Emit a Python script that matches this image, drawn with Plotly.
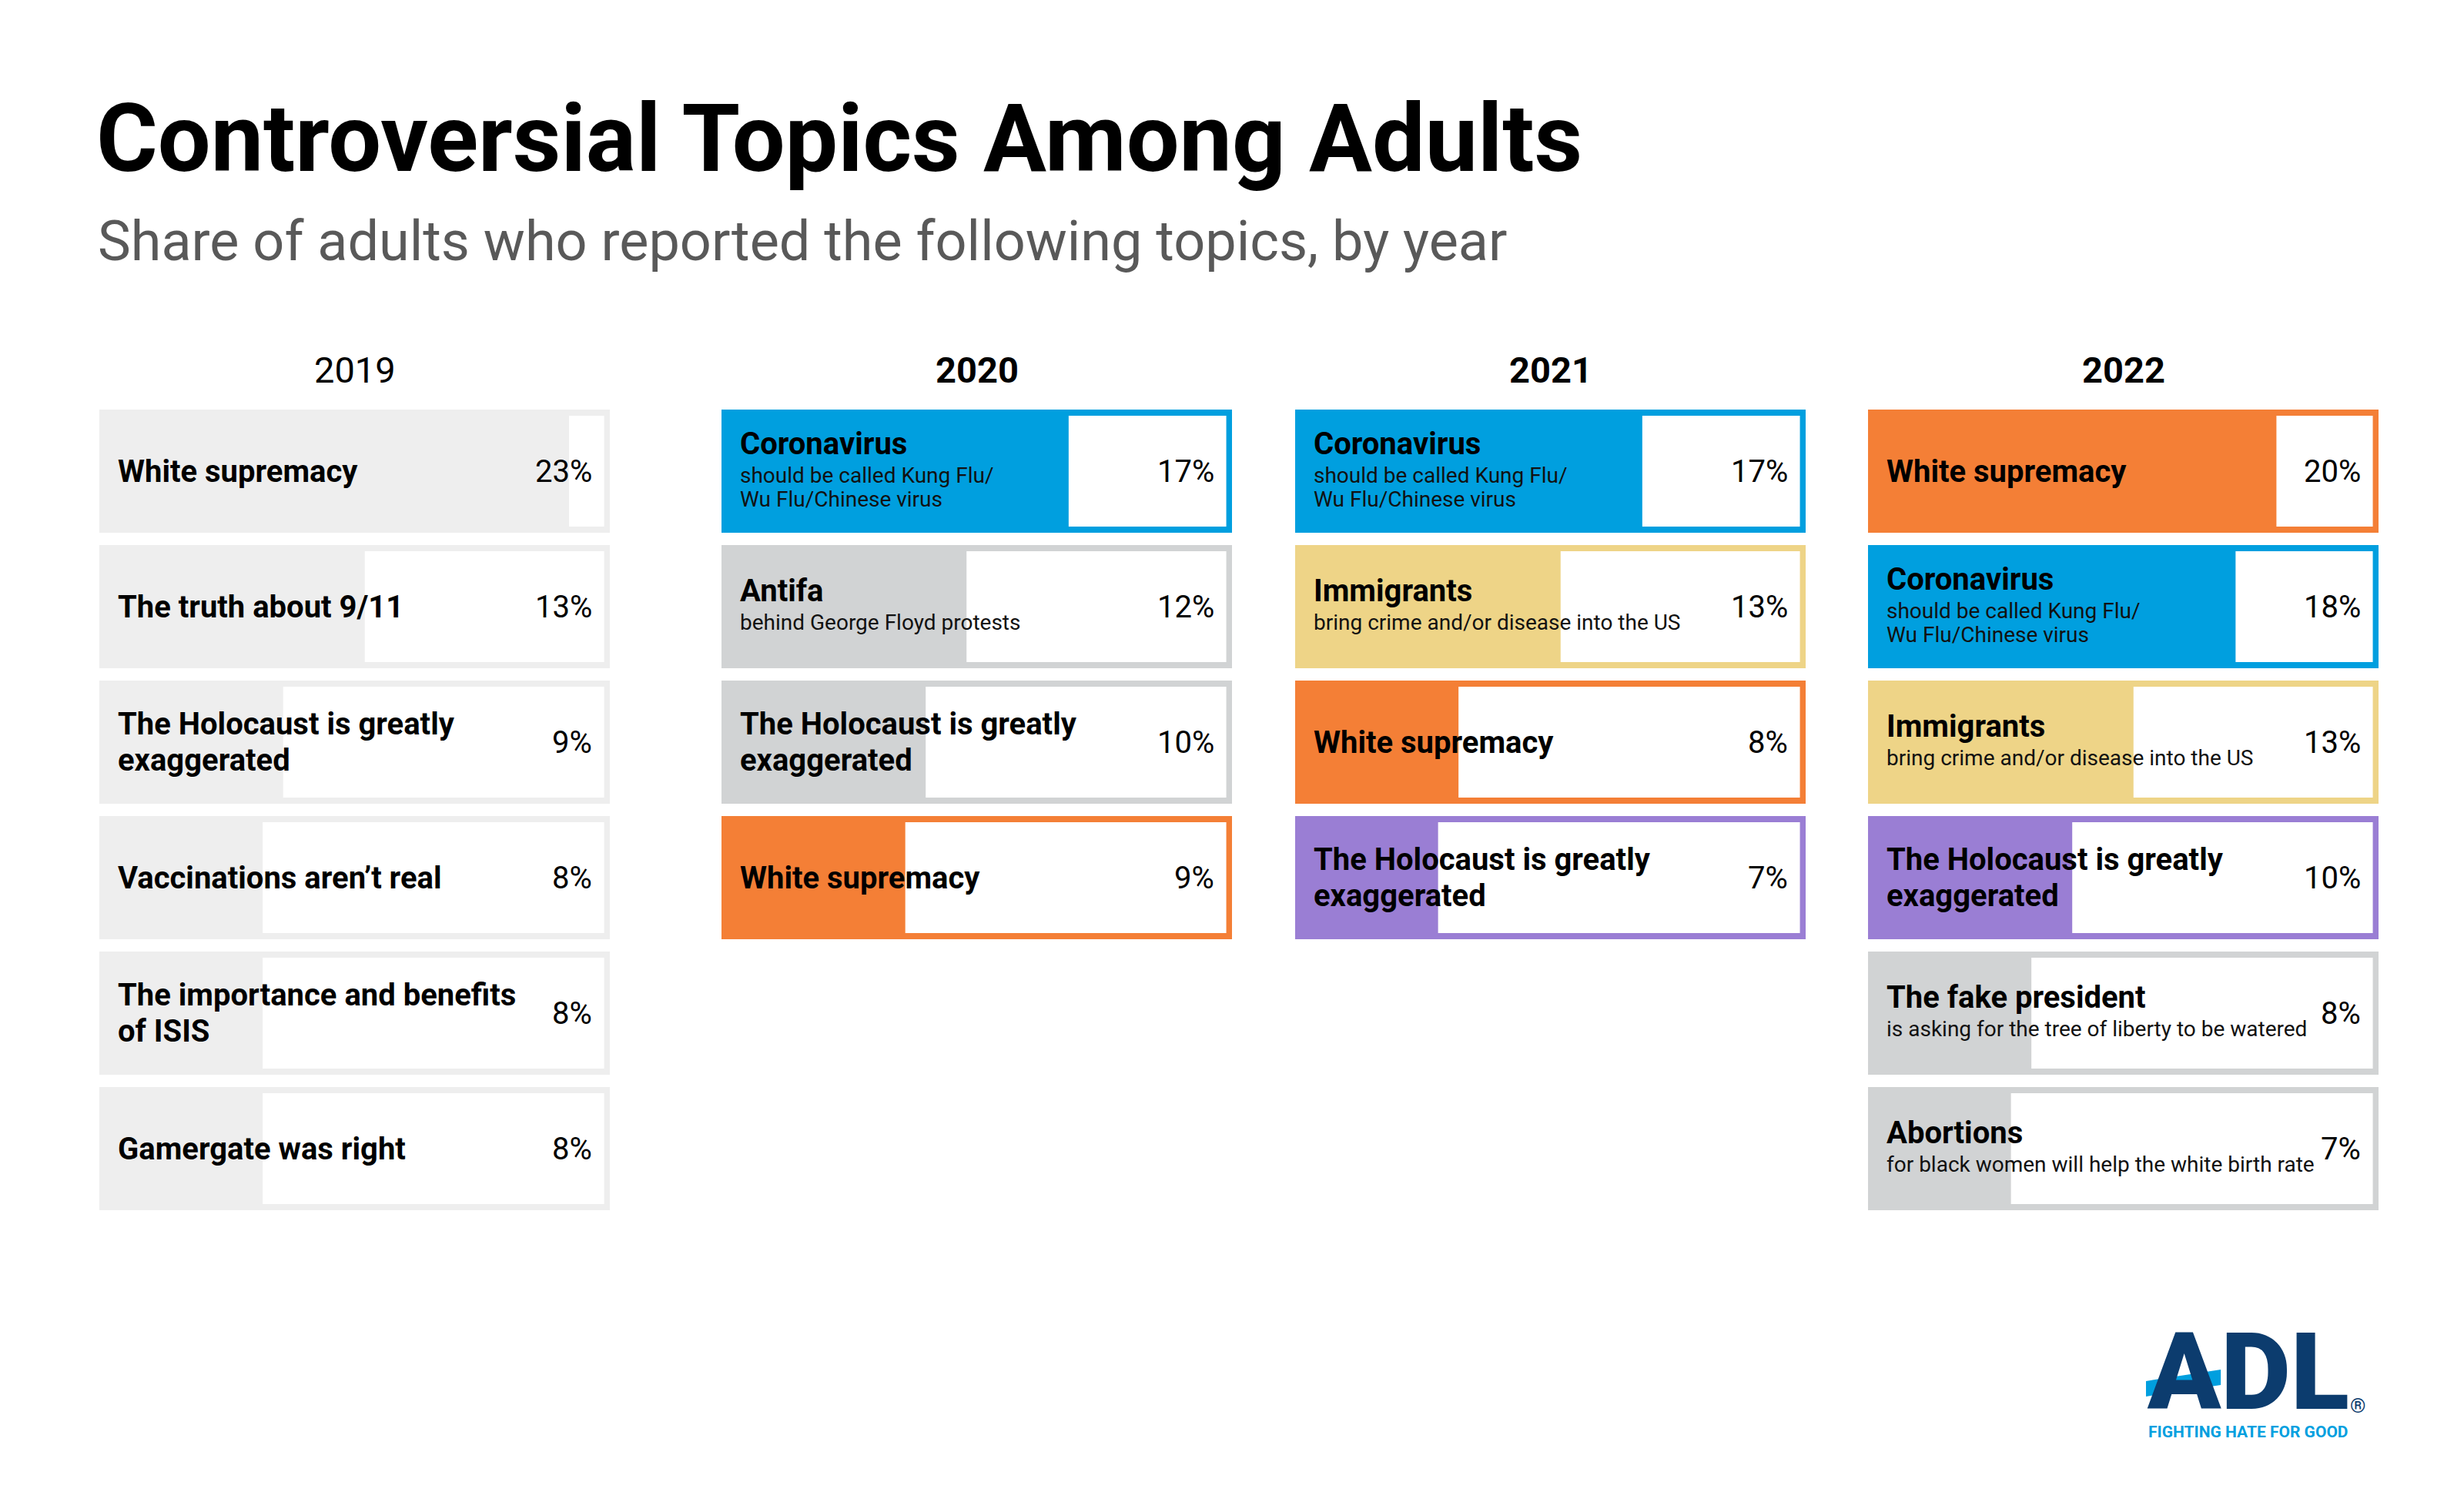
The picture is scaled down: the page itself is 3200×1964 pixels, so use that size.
import plotly.graph_objects as go

# values (share of adults, %)
years = ["2019", "2020", "2021", "2022"]

topics_2019 = ["White supremacy", "The truth about 9/11",
               "The Holocaust is greatly<br>exaggerated", "Vaccinations aren’t real",
               "The importance and benefits<br>of ISIS", "Gamergate was right"]
notes_2019 = ["", "", "", "", "", ""]
values_2019 = [23, 13, 9, 8, 8, 8]
colors_2019 = ["light", "light", "light", "light", "light", "light"]

topics_2020 = ["Coronavirus", "Antifa", "The Holocaust is greatly<br>exaggerated",
               "White supremacy"]
notes_2020 = ["should be called Kung Flu/<br>Wu Flu/Chinese virus",
              "behind George Floyd protests", "", ""]
values_2020 = [17, 12, 10, 9]
colors_2020 = ["blue", "grey", "grey", "orange"]

topics_2021 = ["Coronavirus", "Immigrants", "White supremacy",
               "The Holocaust is greatly<br>exaggerated"]
notes_2021 = ["should be called Kung Flu/<br>Wu Flu/Chinese virus",
              "bring crime and/or disease into the US", "", ""]
values_2021 = [17, 13, 8, 7]
colors_2021 = ["blue", "yellow", "orange", "purple"]

topics_2022 = ["White supremacy", "Coronavirus", "Immigrants",
               "The Holocaust is greatly<br>exaggerated", "The fake president",
               "Abortions"]
notes_2022 = ["", "should be called Kung Flu/<br>Wu Flu/Chinese virus",
              "bring crime and/or disease into the US", "",
              "is asking for the tree of liberty to be watered",
              "for black women will help the white birth rate"]
values_2022 = [20, 18, 13, 10, 8, 7]
colors_2022 = ["orange", "blue", "yellow", "purple", "grey", "grey"]

PALETTE = {"light": "#EEEEEE", "grey": "#D1D3D4", "blue": "#009FDF",
           "orange": "#F47F36", "yellow": "#EED487", "purple": "#9A7ED4"}

# page geometry (pixels on the 3200x1964 page); the html body adds an 8px margin
PAGE_W, PAGE_H = 3200, 1964
OFF = 8
W, H = PAGE_W - 2 * OFF, PAGE_H - 2 * OFF


def fx(px):
    return (px - OFF) / W


def fy(py):
    return 1 - (py - OFF) / H


PCT_MAX = 25          # a card is 25 percentage points wide
EDGE = 0.28           # right border of a card, in percentage points
col_left = [129, 937, 1682, 2426]
col_w = 663
rows_top, rows_bottom = 524, 1580   # six row slots of 176px
FONT = "Roboto"

columns = [
    (topics_2019, notes_2019, values_2019, colors_2019),
    (topics_2020, notes_2020, values_2020, colors_2020),
    (topics_2021, notes_2021, values_2021, colors_2021),
    (topics_2022, notes_2022, values_2022, colors_2022),
]

fig = go.Figure()
annotations = []

for k, (topics, notes, vals, cols) in enumerate(columns):
    xa = "x" if k == 0 else "x%d" % (k + 1)
    rows = list(range(len(vals)))

    # coloured card, then white area to the right of the value
    fig.add_trace(go.Bar(x=[PCT_MAX] * len(vals), y=rows, base=0, orientation="h",
                         width=0.909, marker=dict(color=[PALETTE[c] for c in cols], line_width=0),
                         xaxis=xa, yaxis="y", hoverinfo="skip", showlegend=False))
    fig.add_trace(go.Bar(x=[PCT_MAX - EDGE - v for v in vals], y=rows, base=vals,
                         orientation="h", width=0.818,
                         marker=dict(color="white", line_width=0),
                         xaxis=xa, yaxis="y", hoverinfo="skip", showlegend=False))

    fig.layout["xaxis" if k == 0 else "xaxis%d" % (k + 1)] = dict(
        domain=[fx(col_left[k]), fx(col_left[k] + col_w)], range=[0, PCT_MAX],
        visible=False, anchor="y", fixedrange=True)

    for r, (topic, note, v) in enumerate(zip(topics, notes, vals)):
        lines = [(t, "main") for t in topic.split("<br>")]
        if note:
            lines += [(t, "sub") for t in note.split("<br>")]
        # stack the lines, then centre the block on the card
        pos = []
        y = 0
        prev = None
        for t, kind in lines:
            if prev is not None:
                if prev == "main" and kind == "main":
                    y += 47
                elif prev == "main" and kind == "sub":
                    y += 41
                else:
                    y += 31
            pos.append(y)
            prev = kind
        mid = (pos[0] + pos[-1]) / 2
        for (t, kind), p in zip(lines, pos):
            if kind == "main":
                f = dict(family=FONT, size=40, color="#000000", weight=700)
            else:
                f = dict(family=FONT, size=28, color="#111111", weight=400)
            annotations.append(dict(x=0, y=r, xref=xa, yref="y", text=t, showarrow=False,
                                    xanchor="left", yanchor="middle", xshift=22,
                                    yshift=-(p - mid), font=f))
        annotations.append(dict(x=PCT_MAX, y=r, xref=xa, yref="y", text="%d%%" % v,
                                showarrow=False, xanchor="right", yanchor="middle",
                                xshift=-21, font=dict(family=FONT, size=40, color="#000000")))

    annotations.append(dict(x=fx(col_left[k] + col_w / 2), y=fy(480), xref="paper",
                            yref="paper", text=years[k], showarrow=False,
                            xanchor="center", yanchor="middle",
                            font=dict(family=FONT, size=47, color="#000000",
                                      weight=400 if k == 0 else 700)))

# title and subtitle
annotations.append(dict(x=fx(129), y=fy(181), xref="paper", yref="paper",
                        text="Controversial Topics Among Adults", showarrow=False,
                        xanchor="left", yanchor="middle", xshift=-6,
                        font=dict(family=FONT, size=122, color="#000000", weight=700)))
annotations.append(dict(x=fx(129), y=fy(314), xref="paper", yref="paper",
                        text="Share of adults who reported the following topics, by year",
                        showarrow=False, xanchor="left", yanchor="middle", xshift=-4,
                        font=dict(family=FONT, size=72, color="#595959")))

# ADL logo
annotations.append(dict(x=fx(2786), y=fy(1782), xref="paper", yref="paper", text="ADL",
                        showarrow=False, xanchor="left", yanchor="middle",
                        font=dict(family=FONT, size=140, color="#0C3C6E", weight=900)))
annotations.append(dict(x=fx(3062), y=fy(1826), xref="paper", yref="paper", text="®",
                        showarrow=False, xanchor="center", yanchor="middle",
                        font=dict(family=FONT, size=26, color="#0C3C6E")))
annotations.append(dict(x=fx(2920), y=fy(1860), xref="paper", yref="paper",
                        text="FIGHTING HATE FOR GOOD", showarrow=False,
                        xanchor="center", yanchor="middle",
                        font=dict(family=FONT, size=21, color="#009FDF", weight=700)))

bar_pts = [(2787, 1794), (2884, 1779), (2884, 1799), (2787, 1814)]
path = "M " + " L ".join("%.4f,%.4f" % (fx(px), fy(py)) for px, py in bar_pts) + " Z"

fig.update_layout(
    width=W, height=H,
    margin=dict(l=0, r=0, t=0, b=0),
    paper_bgcolor="white", plot_bgcolor="white",
    barmode="overlay",
    yaxis=dict(domain=[fy(rows_bottom), fy(rows_top)], range=[5.5, -0.5],
               visible=False, fixedrange=True),
    annotations=annotations,
    shapes=[dict(type="path", xref="paper", yref="paper", path=path,
                 fillcolor="#009FDF", line_width=0, layer="above")],
)

fig.write_html("out.html")
